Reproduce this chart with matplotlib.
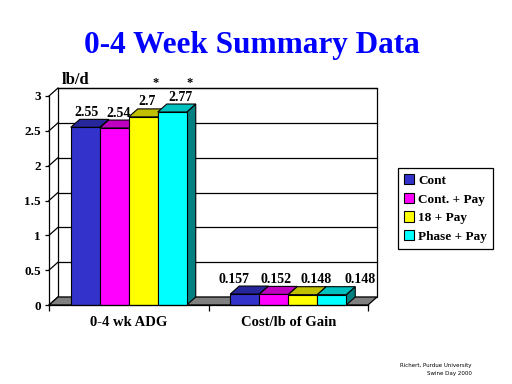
import matplotlib
matplotlib.use("Agg")
import numpy as np
import matplotlib.patches as mpatches
from matplotlib import pyplot as plt

categories = ["0-4 wk ADG", "Cost/lb of Gain"]
series = ["Cont", "Cont. + Pay", "18 + Pay", "Phase + Pay"]
adg = [2.55, 2.54, 2.7, 2.77]
cost = [0.157, 0.152, 0.148, 0.148]
value_labels = [["2.55", "2.54", "2.7", "2.77"],
                ["0.157", "0.152", "0.148", "0.148"]]
starred = [[False, False, True, True], [False, False, False, False]]
y_ticks = [0, 0.5, 1, 1.5, 2, 2.5, 3]
y_tick_labels = ["0", "0.5", "1", "1.5", "2", "2.5", "3"]

front_colors = ["#3333CC", "#FF00FF", "#FFFF00", "#00FFFF"]
top_colors = ["#27279C", "#C000C0", "#C0C000", "#00C0C0"]
side_colors = ["#1A1A66", "#800080", "#808000", "#008080"]

plt.rcParams["font.family"] = "Liberation Serif"
plt.rcParams["font.weight"] = "bold"

W, H = 512, 384
fig = plt.figure(figsize=(W / 100, H / 100), dpi=100)
fig.patch.set_facecolor("white")

# front axis box in pixels: x 49..368, y 96..305
ax = fig.add_axes([49 / W, (H - 305) / H, 319 / W, 209 / H])
ax.set_xlim(-0.5, 1.5)
ax.set_ylim(0, 3)
ax.patch.set_visible(False)

px_x = 2 / 319
px_y = 3 / 209
dx, dy = 9 * px_x, 8 * px_y
w = 29 * px_x

# back wall
wall = mpatches.Rectangle((-0.5 + dx, dy), 2, 3, facecolor="white",
                          edgecolor="black", lw=0.9, clip_on=False, zorder=0)
ax.add_patch(wall)
for t in y_ticks[1:]:
    ax.plot([-0.5 + dx, 1.5 + dx], [t + dy, t + dy], color="black", lw=0.9,
            clip_on=False, zorder=1)
for t in y_ticks:
    ax.plot([-0.5, -0.5 + dx], [t, t + dy], color="black", lw=0.9,
            clip_on=False, zorder=1)

# floor
floor = mpatches.Polygon([(-0.5, 0), (1.5, 0), (1.5 + dx, dy), (-0.5 + dx, dy)],
                         closed=True, facecolor="#808080", edgecolor="black",
                         lw=0.9, clip_on=False, zorder=1)
ax.add_patch(floor)

label_shift = [[1, 4, 4, 8], [-11, 2, 13, 28]]
z = 3
for j, vals in enumerate([adg, cost]):
    xs = j + (np.arange(len(vals)) - 1.5) * w
    for i, (x, v) in enumerate(zip(xs, vals)):
        r = x + w / 2
        l = x - w / 2
        side = mpatches.Polygon([(r, 0), (r + dx, dy), (r + dx, v + dy), (r, v)],
                                closed=True, facecolor=side_colors[i],
                                edgecolor="black", lw=0.8, clip_on=False, zorder=z)
        top = mpatches.Polygon([(l, v), (r, v), (r + dx, v + dy), (l + dx, v + dy)],
                               closed=True, facecolor=top_colors[i],
                               edgecolor="black", lw=0.8, clip_on=False, zorder=z)
        ax.add_patch(side)
        ax.add_patch(top)
        ax.bar(x, v, width=w, color=front_colors[i], edgecolor="black",
               lw=0.8, zorder=z, clip_on=False)
        z += 1
        ax.text(x + label_shift[j][i] * px_x, v + dy + 0.5 * px_y, value_labels[j][i],
                ha="center", va="bottom", fontsize=10, zorder=20)
        if starred[j][i]:
            ax.text(x + (12 if i == 2 else 17) * px_x, 3 + dy + 5 * px_y, "*",
                    ha="center", va="center", fontsize=9, zorder=20)

for s in ["top", "right"]:
    ax.spines[s].set_visible(False)
for s in ["left", "bottom"]:
    ax.spines[s].set_linewidth(0.9)
    ax.spines[s].set_zorder(30)

ax.set_yticks(y_ticks)
ax.set_yticklabels(y_tick_labels)
ax.tick_params(axis="y", direction="out", length=3, width=0.9, labelsize=9.5, pad=3)
ax.set_xticks([0, 1])
ax.set_xticklabels(categories)
ax.tick_params(axis="x", which="major", length=0, labelsize=10.5, pad=8)
ax.set_xticks([-0.5, 0.5, 1.5], minor=True)
ax.tick_params(axis="x", which="minor", direction="out", length=4, width=0.9)

fig.text(252 / W, 1 - 46 / H, "0-4 Week Summary Data", color="#0000FF",
         fontsize=22.5, ha="center", va="center")
fig.text(62 / W, 1 - 80 / H, "lb/d", fontsize=12, ha="left", va="center")

handles = [mpatches.Patch(facecolor=c, edgecolor="black", lw=0.8, label=s)
           for c, s in zip(front_colors, series)]
leg = fig.legend(handles=handles, loc="center",
                 bbox_to_anchor=(445.5 / W, 1 - 208.5 / H),
                 fontsize=9.5, fancybox=False, edgecolor="black", framealpha=1,
                 handlelength=0.8, handleheight=0.8, handletextpad=0.3,
                 labelspacing=0.45, borderpad=0.45)
leg.get_frame().set_linewidth(0.9)

fig.text(472 / W, 1 - 365 / H, "Richert, Purdue University", fontsize=4,
         ha="right", va="center", weight="normal", family="DejaVu Sans")
fig.text(472 / W, 1 - 373 / H, "Swine Day 2000", fontsize=4,
         ha="right", va="center", weight="normal", family="DejaVu Sans")

fig.savefig("out.png", dpi=100)
